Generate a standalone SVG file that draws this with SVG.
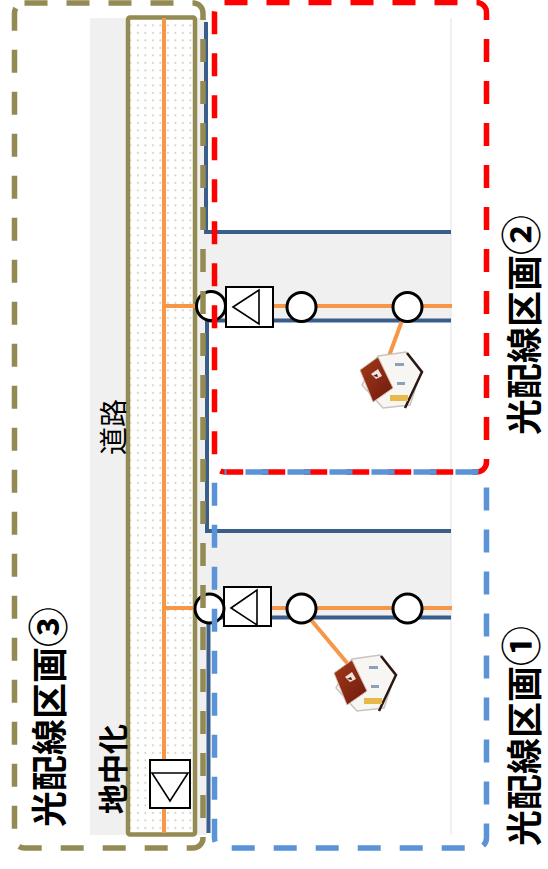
<svg xmlns="http://www.w3.org/2000/svg" width="548" height="869" viewBox="0 0 548 869">
  <style>
    .gray { fill: #f0f0f0; }
    .fiber { stroke: #f79646; stroke-width: 4; fill: none; }
    .cable { stroke: #3a5d8b; stroke-width: 4; fill: none; }
    .node { fill: #ffffff; stroke: #000000; stroke-width: 3; }
    .box { fill: #ffffff; stroke: #000000; stroke-width: 2; }
    .tri { fill: #ffffff; stroke: #000000; stroke-width: 1.6; stroke-linejoin: miter; }
    .zone { fill: none; stroke-width: 5.5; stroke-dasharray: 23 19; }
    .label { font-family: "Noto Sans CJK JP", "Noto Sans", sans-serif; fill: #000000; }
    .zname { font-size: 36px; font-weight: bold; }
    .num { font-size: 40px; font-weight: bold; }
  </style>
  <defs>
    <pattern id="dots" width="7.5" height="7.5" patternUnits="userSpaceOnUse">
      <rect x="2" y="2" width="1.8" height="1.8" fill="#d6cfb6"/>
    </pattern>
    <linearGradient id="roof" x1="0" y1="0" x2="1" y2="1">
      <stop offset="0" stop-color="#a33a1c"/>
      <stop offset="1" stop-color="#6e1a0c"/>
    </linearGradient>
    <g id="house">
      <polygon points="20,4 48,0 63,20 52,53 25,56 4,33" fill="#f7f6f2" stroke="#c9c5bc" stroke-width="1.5"/>
      <polygon points="2,18 20,5 35,36 15,50" fill="url(#roof)" stroke="#d8b8a8" stroke-width="1"/>
      <path d="M13,22 L20,17 L24,24 L18,27 Z" fill="#f2e4dc"/>
      <path d="M15,24 L19,22 L20,25 Z" fill="#4a1208"/>
      <polyline points="49,1 64,20 47,56" fill="none" stroke="#2a1810" stroke-width="2.5"/>
      <rect x="37" y="11" width="9" height="3" fill="#8ea0c0"/>
      <rect x="39" y="30" width="8" height="3" fill="#8ea0c0"/>
      <rect x="32" y="43" width="18" height="6" fill="#e8b84a"/>
    </g>
  </defs>

  <!-- map background -->
  <g id="map">
    <rect class="gray" x="90" y="18" width="117" height="817"/>
    <rect class="gray" x="207" y="232" width="244" height="88"/>
    <rect class="gray" x="207" y="531" width="244" height="86"/>
    <line x1="451" y1="18" x2="451" y2="835" stroke="#e2e2e2" stroke-width="1"/>
  </g>

  <!-- underground trunk -->
  <g id="road">
    <rect x="128" y="17.5" width="67" height="817" rx="2" fill="#ffffff" stroke="none"/>
    <rect x="128" y="17.5" width="67" height="817" rx="2" fill="url(#dots)" stroke="#948a54" stroke-width="4.5"/>
  </g>

  <g id="connectors">
    <path class="cable" d="M206,22 V232 H451"/>
    <path class="cable" d="M451,320.5 H207 V531 H451"/>
    <path class="cable" d="M451,617.5 H208.5 V833"/>
    <line class="fiber" x1="164" y1="18" x2="164" y2="833"/>
    <line class="fiber" x1="164" y1="306" x2="452" y2="306"/>
    <line class="fiber" x1="164" y1="608" x2="452" y2="608"/>
    <line class="fiber" x1="407" y1="307" x2="389" y2="356"/>
    <line class="fiber" x1="301" y1="608" x2="348" y2="664"/>
  </g>

  <g id="splitter-road">
    <rect class="box" x="150" y="760" width="40" height="48"/>
    <polygon class="tri" points="152,773 188,773 170,801"/>
  </g>
  <g id="splitter-2">
    <rect class="box" x="226" y="287" width="47" height="40"/>
    <polygon class="tri" points="233,307 259,290 259,324"/>
  </g>
  <g id="splitter-1">
    <rect class="box" x="224" y="587" width="47" height="39"/>
    <polygon class="tri" points="231,608 257,590 257,625"/>
  </g>

  <g id="closures-2">
    <circle class="node" cx="211" cy="306" r="14.5"/>
    <circle class="node" cx="301.5" cy="307" r="14.5"/>
    <circle class="node" cx="407.5" cy="307" r="14.5"/>
  </g>
  <g id="closures-1">
    <circle class="node" cx="209.5" cy="608.5" r="14.5"/>
    <circle class="node" cx="301.5" cy="608.5" r="14.5"/>
    <circle class="node" cx="407.5" cy="608.5" r="14.5"/>
  </g>

  <g id="house-2"><use href="#house" transform="translate(358,352)"/></g>
  <g id="house-1"><use href="#house" transform="translate(332,655)"/></g>

  <!-- zone outlines -->
  <g id="zone-3"><rect class="zone" x="14.5" y="3" width="188.5" height="845" rx="10" stroke="#948a54"/></g>
  <g id="zone-2"><rect class="zone" x="214.5" y="2.5" width="272" height="469.5" rx="10" stroke="#ff0000"/></g>
  <g id="zone-1"><rect class="zone" x="214.5" y="472" width="272" height="376" rx="10" stroke="#5a93d6" stroke-dashoffset="21"/></g>

  <g id="labels">
    <text class="label" transform="translate(124,427) rotate(-90)" font-size="28" text-anchor="middle">道路</text>
    <text class="label" transform="translate(124,769) rotate(-90)" font-size="30" font-weight="bold" text-anchor="middle">地中化</text>
    <text class="label zname" transform="translate(63,827) rotate(-90)">光配線区画</text>
    <text class="label num" transform="translate(63,647) rotate(-90)">③</text>
    <text class="label zname" transform="translate(538,435) rotate(-90)">光配線区画</text>
    <text class="label num" transform="translate(536,255) rotate(-90)">②</text>
    <text class="label zname" transform="translate(538,846) rotate(-90)">光配線区画</text>
    <text class="label num" transform="translate(536,666) rotate(-90)">①</text>
  </g>
</svg>
